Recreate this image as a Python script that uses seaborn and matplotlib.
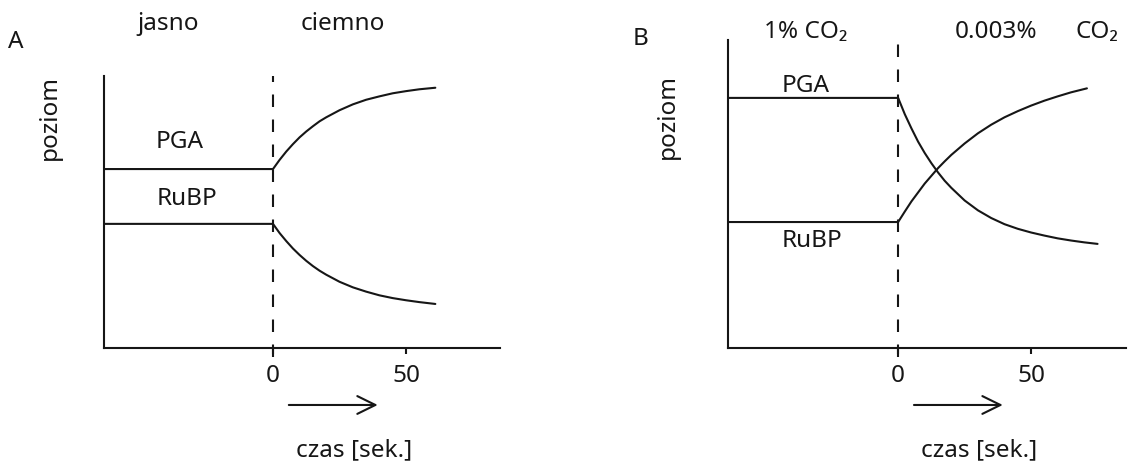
import matplotlib
matplotlib.use("Agg")
import matplotlib.pyplot as plt
import seaborn as sns

# --- dane (poziom w jednostkach umownych, 0-100) ---
# panel A: jasno -> ciemno
t_A = [-63.5, 0, 2.5, 5, 7.5, 10, 12.5, 15, 17.5, 20, 25, 30, 35, 40, 45, 50, 55, 61]
pga_A = [58.1, 58.1, 61.1, 63.8, 66.2, 68.4, 70.3, 72.0, 73.6, 74.9, 77.2, 79.1, 80.6,
         81.7, 82.7, 83.4, 84.0, 84.5]
rubp_A = [40.3, 40.3, 37.3, 34.7, 32.3, 30.2, 28.3, 26.6, 25.1, 23.8, 21.5, 19.7, 18.3,
          17.1, 16.2, 15.5, 14.9, 14.3]

# panel B: 1% CO2 -> 0.003% CO2
t_B_pga = [-64, 0, 2.5, 5, 7.5, 10, 12.5, 15, 17.5, 20, 25, 30, 35, 40, 45, 50, 55, 60,
           65, 70, 75]
pga_B = [81.2, 81.2, 75.9, 71.3, 67.0, 63.3, 60.0, 57.0, 54.3, 52.0, 47.9, 44.7, 42.2,
         40.2, 38.7, 37.5, 36.5, 35.6, 34.9, 34.3, 33.8]
t_B_rubp = [-64, 0, 2.5, 5, 7.5, 10, 12.5, 15, 17.5, 20, 25, 30, 35, 40, 45, 50, 55, 60,
            65, 71]
rubp_B = [40.9, 40.9, 44.3, 47.6, 50.5, 53.4, 55.9, 58.4, 60.6, 62.7, 66.4, 69.7, 72.5,
          74.9, 76.9, 78.7, 80.3, 81.7, 83.0, 84.3]

x_ticks = [0, 50]
x_label = "czas [sek.]"
y_label = "poziom"

INK = "#161616"
LW = 1.5

sns.set_theme(style="white")
plt.rcParams['font.family'] = ['Noto Sans', 'DejaVu Sans']
plt.rcParams['text.color'] = INK
FS = 17.5

fig = plt.figure(figsize=(11.28, 4.65), dpi=100)
axA = fig.add_axes([104 / 1128, 117 / 465, 396 / 1128, 308 / 465])
axB = fig.add_axes([728 / 1128, 117 / 465, 398 / 1128, 308 / 465])


def style_axis(ax, xmin, xmax, ytop):
    ax.set_xlim(xmin, xmax)
    ax.set_ylim(0, 100)
    for s in ['top', 'right']:
        ax.spines[s].set_visible(False)
    for s in ['left', 'bottom']:
        ax.spines[s].set_linewidth(LW)
        ax.spines[s].set_color(INK)
    ax.spines['left'].set_bounds(0, ytop)
    ax.set_xticks(x_ticks)
    ax.set_xticklabels([str(v) for v in x_ticks])
    ax.set_yticks([])
    ax.tick_params(axis='x', direction='out', length=4.5, width=LW, color=INK,
                   labelsize=FS, pad=7, labelcolor=INK, bottom=True)
    ax.set_xlabel("")
    ax.set_ylabel("")
    ax.patch.set_alpha(0)
    # linia przerywana w t = 0
    ax.axvline(0, ymin=-0.03, ymax=ytop / 100, color=INK, lw=LW,
               dashes=(6, 6), clip_on=False)
    # strzałka czasu
    ax.annotate('', xy=(40.4, -18.5), xytext=(4.9, -18.5),
                arrowprops=dict(arrowstyle='->,head_length=0.65,head_width=0.32',
                                lw=LW, color=INK, mutation_scale=20),
                annotation_clip=False)
    ax.text(30.4, -35.3, x_label, ha='center', va='baseline', fontsize=FS)


# ---- panel A ----
sns.lineplot(x=t_A, y=pga_A, ax=axA, color=INK, lw=LW, sort=False)
sns.lineplot(x=t_A, y=rubp_A, ax=axA, color=INK, lw=LW, sort=False)
style_axis(axA, -63.5, 85.3, 88.3)
axA.text(-96.6, 97.4, "A", ha='center', va='baseline', fontsize=FS)
axA.text(-39.5, 103.1, "jasno", ha='center', va='baseline', fontsize=FS)
axA.text(26.3, 103.1, "ciemno", ha='center', va='baseline', fontsize=FS)
axA.text(-83.8, 75, y_label, rotation=90, ha='center', va='center', fontsize=FS)
axA.text(-35, 64.9, "PGA", ha='center', va='baseline', fontsize=FS)
axA.text(-32.3, 46.4, "RuBP", ha='center', va='baseline', fontsize=FS)

# ---- panel B ----
sns.lineplot(x=t_B_pga, y=pga_B, ax=axB, color=INK, lw=LW, sort=False)
sns.lineplot(x=t_B_rubp, y=rubp_B, ax=axB, color=INK, lw=LW, sort=False)
style_axis(axB, -64, 85.7, 100)
axB.text(-96.8, 98.4, "B", ha='center', va='baseline', fontsize=FS)
axB.text(-34.6, 100.6, "1% CO₂", ha='center', va='baseline', fontsize=FS)
axB.text(36.8, 100.6, "0.003%", ha='center', va='baseline', fontsize=FS)
axB.text(74.9, 100.6, "CO₂", ha='center', va='baseline', fontsize=FS)
axB.text(-86.8, 75.3, y_label, rotation=90, ha='center', va='center', fontsize=FS)
axB.text(-34.8, 83.2, "PGA", ha='center', va='baseline', fontsize=FS)
axB.text(-32.4, 32.9, "RuBP", ha='center', va='baseline', fontsize=FS)

fig.savefig("out.png", dpi=100, facecolor='white')
